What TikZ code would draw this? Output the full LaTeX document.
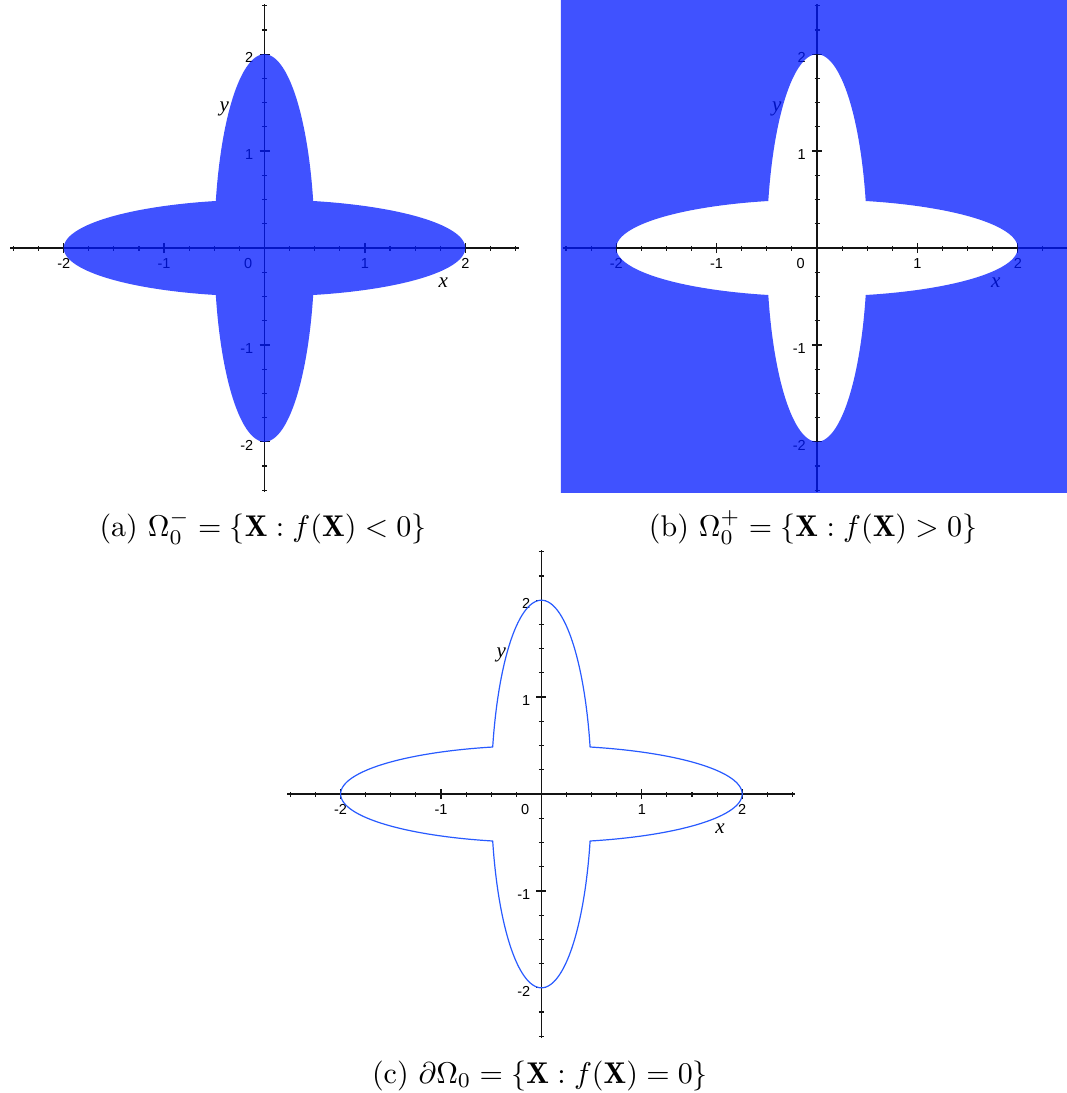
\documentclass[tikz,border=0pt]{standalone}
\usepackage{fontspec}
\newfontfamily\lsans{Liberation Sans}
\newfontfamily\lserif{Liberation Serif}
\definecolor{fillblue}{RGB}{0,24,255}
\definecolor{lineblue}{RGB}{40,90,255}
\tikzset{
  axisline/.style={line width=1.6pt, draw=black!92},
  minortick/.style={line width=1.1pt, draw=black!92},
  majortick/.style={line width=1.3pt, draw=black!92},
  xtl/.style={font=\lsans\fontsize{14.5}{15}\selectfont, inner sep=0pt, anchor=center},
  ytl/.style={font=\lsans\fontsize{14.5}{15}\selectfont, inner sep=0pt, anchor=east},
  axlbl/.style={font=\lserif\itshape\fontsize{21}{22}\selectfont, inner sep=0pt},
  caption/.style={font=\fontsize{10}{12}\selectfont, inner sep=0pt, anchor=base, scale=3.0, transform shape},
  regionfill/.style={fill=fillblue, fill opacity=0.75, draw=none},
}
\newcommand\plotaxes{%
  \draw[axisline] (-2.53,0) -- (2.53,0);
  \draw[axisline] (0,-2.52) -- (0,2.52);
  \foreach \t in {-2.5,-2.25,-1.75,-1.5,-1.25,-0.75,-0.5,-0.25,0.25,0.5,0.75,1.25,1.5,1.75,2.25,2.5} {
    \draw[minortick] (\t,0) ++(0,-2.5pt) -- ++(0,5pt);
    \draw[minortick] (0,\t) ++(-2.5pt,0) -- ++(5pt,0);
  }
  \foreach \t in {-2,-1,1,2} {
    \draw[majortick] (\t,0) ++(0,-5pt) -- ++(0,10pt);
    \draw[majortick] (0,\t) ++(-5pt,0) -- ++(10pt,0);
  }
  \path (-2,0) ++(0,-15.5pt) node[xtl] {-2};
  \path (-1,0) ++(0,-15.5pt) node[xtl] {-1};
  \path (1,0) ++(0,-15.5pt) node[xtl] {1};
  \path (2,0) ++(0,-15.5pt) node[xtl] {2};
  \path (0,0) ++(-12pt,-15.5pt) node[ytl] {0};
  \path (0,2) ++(-11pt,-3.5pt) node[ytl] {2};
  \path (0,1) ++(-11pt,-3.5pt) node[ytl] {1};
  \path (0,-1) ++(-11pt,-3.5pt) node[ytl] {-1};
  \path (0,-2) ++(-11pt,-3.5pt) node[ytl] {-2};
  \node[axlbl] at (-0.40,1.43) {y};
  \node[axlbl] at (1.78,-0.36) {x};
}
\newcommand\shapepath{plot[domain=-75.96:75.96,samples=90] ({2*cos(\x)},{0.5*sin(\x)})
  -- plot[domain=14.04:165.96,samples=90] ({0.5*cos(\x)},{2*sin(\x)})
  -- plot[domain=104.04:255.96,samples=90] ({2*cos(\x)},{0.5*sin(\x)})
  -- plot[domain=194.04:345.96,samples=90] ({0.5*cos(\x)},{2*sin(\x)}) -- cycle}
\begin{document}
\begin{tikzpicture}[x=1pt,y=1pt]
\useasboundingbox (0,0) rectangle (1067,-1093);
% (a)
\begin{scope}[shift={(264.5pt,-248pt)}, x=100.4pt, y=96.9pt]
  \plotaxes
  \fill[regionfill] \shapepath;
\end{scope}
% (b)
\begin{scope}[shift={(817pt,-248pt)}, x=100.4pt, y=96.9pt]
  \plotaxes
  \fill[regionfill, even odd rule] (-2.55,-2.528) rectangle (2.50,2.57) \shapepath;
\end{scope}
% (c)
\begin{scope}[shift={(541.4pt,-794pt)}, x=100.4pt, y=96.9pt]
  \plotaxes
  \draw[lineblue, line width=1.2pt, line join=round] \shapepath;
\end{scope}
\node[caption] (capa) at (263,-536) {(a) $\Omega_0^- = \{\mathbf{X} : f(\mathbf{X}) < 0\}$};
\node[caption] (capb) at (813,-536) {(b) $\Omega_0^+ = \{\mathbf{X} : f(\mathbf{X}) > 0\}$};
\node[caption] (capc) at (540,-1083) {(c) $\partial\Omega_0 = \{\mathbf{X} : f(\mathbf{X}) = 0\}$};
\end{tikzpicture}
\end{document}
